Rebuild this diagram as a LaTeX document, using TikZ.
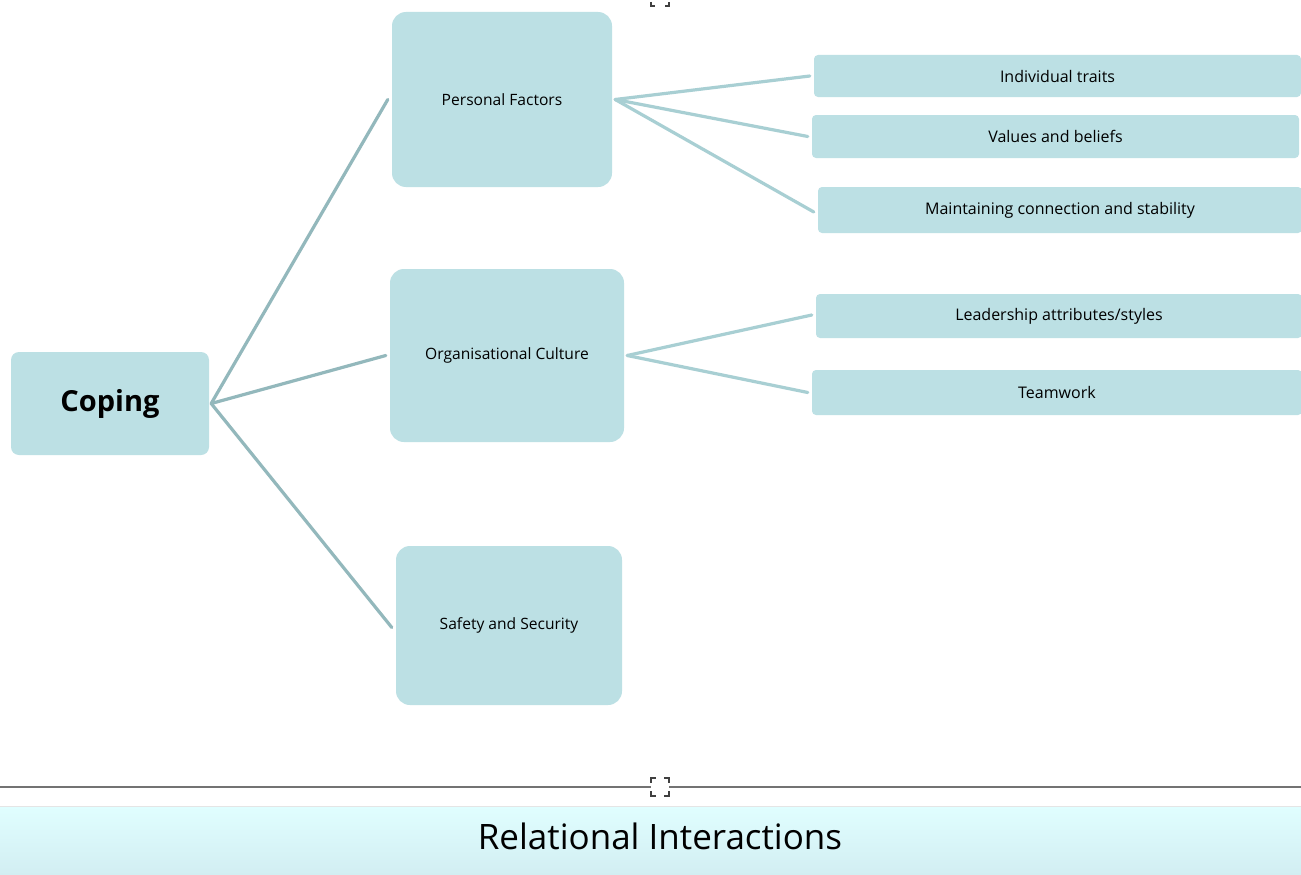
\documentclass[tikz,border=0pt]{standalone}
\usepackage{fontspec}
\setmainfont{Open Sans}
\begin{document}
\begin{tikzpicture}[x=1pt,y=-1pt,
  boxfill/.style={fill=boxc,draw=none,text=black,inner sep=0pt},
  bigbox/.style={boxfill,rounded corners=14pt,font=\fontsize{15.6}{18}\selectfont},
  leaf/.style={boxfill,rounded corners=4pt,font=\fontsize{16}{18}\selectfont},
  rootbox/.style={boxfill,rounded corners=8pt,font=\bfseries\fontsize{29}{32}\selectfont},
  mainlink/.style={draw=linkA,line width=3.2pt,line cap=round},
  sublink/.style={draw=linkB,line width=3.2pt,line cap=round},
  handle/.style={draw=black!75,line width=2pt}
]
\definecolor{boxc}{HTML}{BCE0E4}
\definecolor{linkA}{HTML}{93B8BC}
\definecolor{linkB}{HTML}{A8CFD3}
\definecolor{barTop}{HTML}{E0FEFF}
\definecolor{barBot}{HTML}{D2EEF2}
\useasboundingbox (0,0) rectangle (1301,875);
\fill[white] (0,0) rectangle (1301,875);

% root
\node[rootbox,minimum width=198pt,minimum height=103pt] (coping) at (110,403.5) {Coping};
% level 1
\node[bigbox,minimum width=220pt,minimum height=175pt] (pf) at (502,99.5) {Personal Factors};
\node[bigbox,minimum width=234pt,minimum height=173pt] (oc) at (507,355.5) {Organisational Culture};
\node[bigbox,minimum width=226pt,minimum height=159pt] (ss) at (509,625.5) {Safety and Security};
% leaves
\node[leaf,minimum width=487pt,minimum height=42pt] (it) at (1057.5,76) {Individual traits};
\node[leaf,minimum width=487pt,minimum height=43pt] (vb) at (1055.5,136.5) {Values and beliefs};
\node[leaf,minimum width=484pt,minimum height=46pt] (mc) at (1060,210) {Maintaining connection and stability};
\node[leaf,minimum width=486pt,minimum height=44pt] (la) at (1059,316) {Leadership attributes/styles};
\node[leaf,minimum width=490pt,minimum height=45pt] (tw) at (1057,392.5) {Teamwork};

% connectors
\coordinate (cR) at ([xshift=2pt]coping.east);
\draw[mainlink] (cR) -- ([xshift=-4pt]pf.west);
\draw[mainlink] (cR) -- ([xshift=-4pt]oc.west);
\draw[mainlink] (cR) -- ([xshift=-4pt,yshift=-2pt]ss.west);

\coordinate (pR) at ([xshift=3pt]pf.east);
\draw[sublink] (pR) -- ([xshift=-4pt]it.west);
\draw[sublink] (pR) -- ([xshift=-4pt]vb.west);
\draw[sublink] (pR) -- ([xshift=-4pt,yshift=-2pt]mc.west);

\coordinate (oR) at ([xshift=3pt]oc.east);
\draw[sublink] (oR) -- ([xshift=-4pt,yshift=1pt]la.west);
\draw[sublink] (oR) -- ([xshift=-4pt]tw.west);

% separator line
\coordinate (sepL) at (0,787);
\coordinate (sepR) at (1301,787);
\draw[draw=black!55,line width=1.6pt] (sepL) -- (sepR);

% selection handles
\fill[white] (651,778) rectangle (669,796);
\foreach \cx/\cy in {660/787}{
  \draw[handle] (\cx-9,\cy-4) -- (\cx-9,\cy-9) -- (\cx-4,\cy-9);
  \draw[handle] (\cx+4,\cy-9) -- (\cx+9,\cy-9) -- (\cx+9,\cy-4);
  \draw[handle] (\cx-9,\cy+4) -- (\cx-9,\cy+9) -- (\cx-4,\cy+9);
  \draw[handle] (\cx+4,\cy+9) -- (\cx+9,\cy+9) -- (\cx+9,\cy+4);
}
\draw[handle] (651,2) -- (651,6) -- (655,6);
\draw[handle] (665,6) -- (669,6) -- (669,2);

% bottom bar
\shade[top color=barTop,bottom color=barBot] (0,806) rectangle (1301,875);
\draw[draw=black!10,line width=1pt] (0,806) -- (1301,806);
\node[font=\fontsize{35}{40}\selectfont,text=black] (ri) at (660,836) {Relational Interactions};
\end{tikzpicture}
\end{document}
